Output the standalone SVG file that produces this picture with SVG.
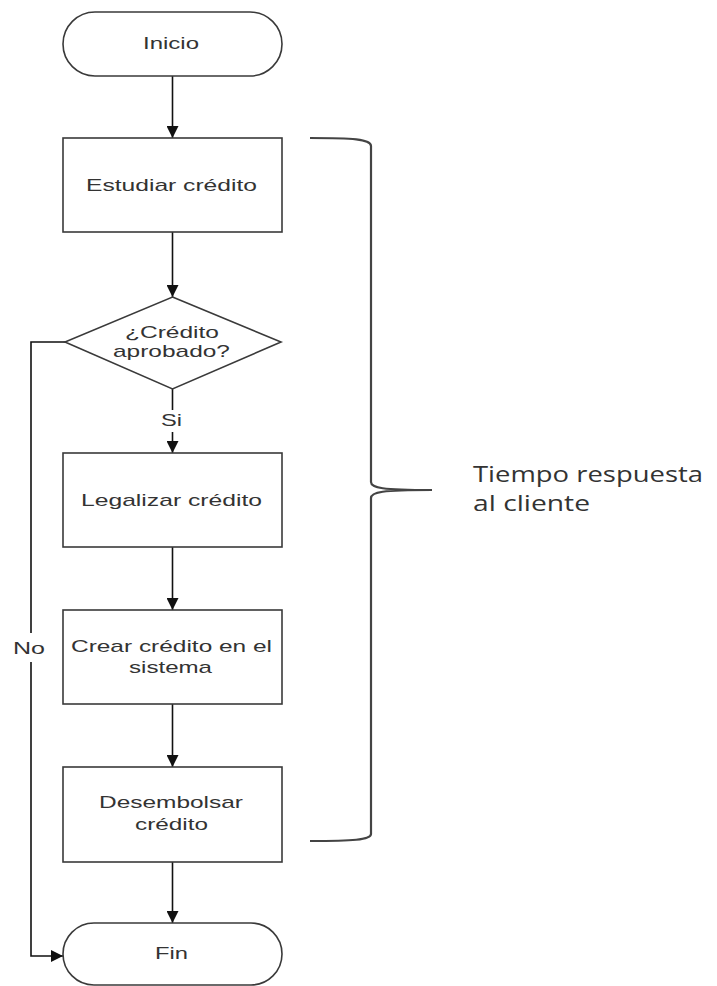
<svg xmlns="http://www.w3.org/2000/svg" width="717" height="986" viewBox="0 0 717 986">
<style>
.shape{fill:#fff;stroke:#3a3a3a;stroke-width:1.6}
.line{fill:none;stroke:#111;stroke-width:1.6}
.t{font-family:"Liberation Sans",Arial,sans-serif;font-size:17px;fill:#333;text-anchor:middle}
.brace{fill:none;stroke:#444;stroke-width:2.2}
.side{font-family:"Open Sans","Noto Sans",sans-serif;font-size:21px;fill:#333}
</style>
<defs>
<marker id="arr" viewBox="0 0 12 12" refX="12" refY="6" markerWidth="12" markerHeight="12" markerUnits="userSpaceOnUse" orient="auto">
<path d="M0,0 L12,6 L0,12 Z" fill="#111"/>
</marker>
</defs>
<rect width="717" height="986" fill="#fff"/>
<g id="connectors">
<line class="line" x1="172.5" y1="76" x2="172.5" y2="138" marker-end="url(#arr)"/>
<line class="line" x1="172.5" y1="232" x2="172.5" y2="297" marker-end="url(#arr)"/>
<line class="line" x1="172.5" y1="389" x2="172.5" y2="410"/>
<line class="line" x1="172.5" y1="432" x2="172.5" y2="453" marker-end="url(#arr)"/>
<line class="line" x1="172.5" y1="547" x2="172.5" y2="610" marker-end="url(#arr)"/>
<line class="line" x1="172.5" y1="704" x2="172.5" y2="767" marker-end="url(#arr)"/>
<line class="line" x1="172.5" y1="862" x2="172.5" y2="923" marker-end="url(#arr)"/>
<polyline class="line" points="65,342 31,342 31,633"/>
<polyline class="line" points="31,662 31,956 63,956" marker-end="url(#arr)"/>
<text class="t" x="171.5" y="426" textLength="21" lengthAdjust="spacingAndGlyphs">Si</text>
<text class="t" x="29" y="654" textLength="32" lengthAdjust="spacingAndGlyphs">No</text>
</g>
<g id="inicio">
<rect class="shape" x="63" y="12" width="219" height="64" rx="32" ry="32"/>
<text class="t" x="171" y="49" textLength="56" lengthAdjust="spacingAndGlyphs">Inicio</text>
</g>
<g id="estudiar">
<rect class="shape" x="63" y="138" width="219" height="94"/>
<text class="t" x="171.5" y="191" textLength="171" lengthAdjust="spacingAndGlyphs">Estudiar crédito</text>
</g>
<g id="decision">
<polygon class="shape" points="172.5,297 281,342 172.5,389 65,342"/>
<text class="t" x="172" y="338" textLength="94" lengthAdjust="spacingAndGlyphs">¿Crédito</text>
<text class="t" x="171.5" y="357" textLength="117" lengthAdjust="spacingAndGlyphs">aprobado?</text>
</g>
<g id="legalizar">
<rect class="shape" x="63" y="453" width="219" height="94"/>
<text class="t" x="171.5" y="506" textLength="181" lengthAdjust="spacingAndGlyphs">Legalizar crédito</text>
</g>
<g id="crear">
<rect class="shape" x="63" y="610" width="219" height="94"/>
<text class="t" x="171.5" y="652" textLength="201" lengthAdjust="spacingAndGlyphs">Crear crédito en el</text>
<text class="t" x="170.5" y="673" textLength="83" lengthAdjust="spacingAndGlyphs">sistema</text>
</g>
<g id="desembolsar">
<rect class="shape" x="63" y="767" width="219" height="95"/>
<text class="t" x="171" y="808" textLength="144" lengthAdjust="spacingAndGlyphs">Desembolsar</text>
<text class="t" x="171.5" y="830" textLength="73" lengthAdjust="spacingAndGlyphs">crédito</text>
</g>
<g id="fin">
<rect class="shape" x="63" y="923" width="219" height="62" rx="31" ry="31"/>
<text class="t" x="171.5" y="959" textLength="33" lengthAdjust="spacingAndGlyphs">Fin</text>
</g>
<g id="brace">
<path class="brace" d="M310,138 C352,138 371,139 371,146 L371,482 C371,488 382,490 432,490 C382,490 371,492 371,498 L371,834 C371,840 352,841 310,841"/>
<text class="side" x="473" y="482" textLength="230" lengthAdjust="spacingAndGlyphs">Tiempo respuesta</text>
<text class="side" x="473" y="511" textLength="117" lengthAdjust="spacingAndGlyphs">al cliente</text>
</g>
</svg>
